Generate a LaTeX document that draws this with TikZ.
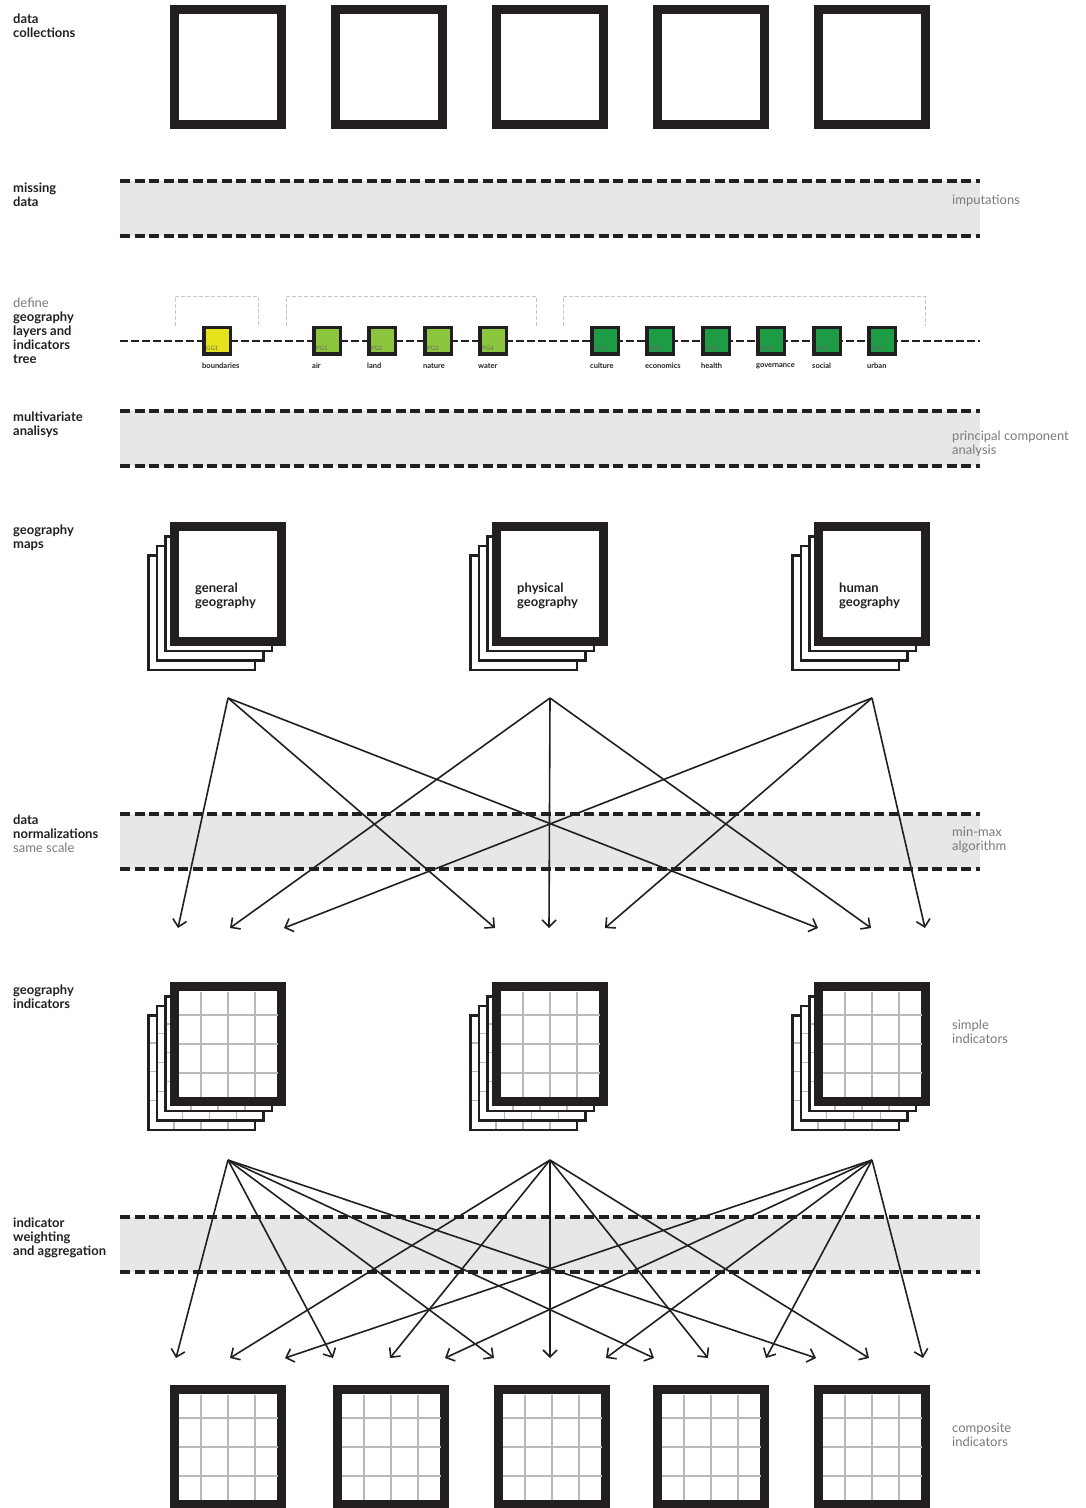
\documentclass[tikz,border=0pt]{standalone}
\usepackage{fontspec}
\setmainfont{Lato}
\usetikzlibrary{arrows.meta, positioning}

\definecolor{boxdark}{HTML}{231F20}
\definecolor{bandgray}{HTML}{E6E7E8}
\definecolor{labelgray}{HTML}{7A7A7A}
\definecolor{gridgray}{HTML}{B8B9BB}
\definecolor{ggyellow}{HTML}{E4E31B}
\definecolor{pggreen}{HTML}{8CC63F}
\definecolor{hggreen}{HTML}{1E9C45}

\begin{document}
\begin{tikzpicture}[x=1pt, y=-1pt,
    bigbox/.style={draw=boxdark, line width=9pt, fill=white, minimum width=107pt, minimum height=115pt, inner sep=0pt},
    sheet/.style={draw=boxdark, line width=2.5pt, fill=white},
    cell/.style={draw=gridgray, line width=1.2pt},
    bandline/.style={draw=boxdark, line width=4pt, dash pattern=on 10pt off 4.5pt},
    flow/.style={draw=boxdark, line width=1.6pt, -{Straight Barb[length=7pt, width=14pt, line width=1.6pt]}},
    leftlabel/.style={anchor=north west, align=left, inner sep=0pt, font=\fontsize{13}{14}\selectfont\bfseries, text=boxdark},
    rightlabel/.style={anchor=north west, align=left, inner sep=0pt, font=\fontsize{13}{14}\selectfont, text=labelgray},
    maplabel/.style={anchor=north west, align=left, inner sep=0pt, font=\fontsize{13}{14}\selectfont\bfseries, text=boxdark},
    treenode/.style={draw=boxdark, line width=3.5pt, minimum size=26.5pt, inner sep=0pt},
    treeline/.style={draw=boxdark, line width=2pt, dash pattern=on 8pt off 3pt},
    treetag/.style={anchor=north west, inner sep=0pt, font=\fontsize{7.5}{7.5}\selectfont\bfseries, text=boxdark},
    tinytag/.style={anchor=south west, inner sep=0pt, font=\fontsize{6}{6}\selectfont, text=black!60},
    bracket/.style={draw=gray!45, line width=0.9pt, dash pattern=on 4pt off 2pt}]

    \useasboundingbox (0,0) rectangle (1086,1508);

    % data collections
    \foreach \cx [count=\n] in {228,389,550,711,872}
        \node[bigbox] (coll\n) at (\cx,66.5) {};

    % grey bands
    \foreach \t in {181,411,814,1217} {
        \fill[bandgray] (120,\t) rectangle (980,\t+55);
        \draw[bandline] (120,\t) -- (980,\t);
        \draw[bandline] (120,\t+55) -- (980,\t+55);
    }

    % layers and indicators tree
    \draw[bracket] (175,326) -- (175,296) -- (258,296) -- (258,326);
    \draw[bracket] (286,326) -- (286,296) -- (536,296) -- (536,326);
    \draw[bracket] (563,326) -- (563,296) -- (925,296) -- (925,326);
    \draw[treeline] (120,341) -- (980,341);
    \foreach \x/\id/\nm/\col in {217/GG1/boundaries/ggyellow,
            327/PG1/air/pggreen, 382/PG2/land/pggreen, 438/PG3/nature/pggreen, 493/PG4/water/pggreen,
            605/HG1/culture/hggreen, 660/HG2/economics/hggreen, 716/HG3/health/hggreen,
            771/HG4/governance/hggreen, 827/HG5/social/hggreen, 882/HG6/urban/hggreen} {
        \node[treenode, fill=\col] (\id) at (\x,340.5) {};
        \node[tinytag] (\id-tag) at ([shift={(4pt,5pt)}]\id.south west) {\id};
        \node[treetag] (\id-name) at ([yshift=-7.5pt]\id.south west) {\nm};
    }

    % geography maps
    \foreach \cx/\nm/\txt in {228/gen/general, 550/phys/physical, 872/hum/human} {
        \foreach \k in {3,2,1}
            \draw[sheet] ({\cx-58+2.5-8.5*\k+1.25},{522+3.5+9.5*\k+1.25}) rectangle +(106.5,114.5);
        \node[bigbox] (map-\nm) at (\cx,584) {};
        \node[maplabel] (map-\nm-txt) at (\cx-33,582.5) {\txt\\geography};
    }

    % geography indicators
    \foreach \cx/\nm in {228/gen, 550/phys, 872/hum} {
        \foreach \k in {3,2,1} {
            \draw[sheet] ({\cx-58+2.5-8.5*\k+1.25},{982+3.5+9.5*\k+1.25}) rectangle +(106.5,114.5);
            \foreach \d in {27,54,81} {
                \draw[cell] ({\cx-58+2.5-8.5*\k+\d},{982+3.5+9.5*\k+2.5}) -- +(0,112);
                \draw[cell] ({\cx-58+2.5-8.5*\k+2.5},{982+3.5+9.5*\k+\d*1.07}) -- +(104,0);
            }
        }
        \node[bigbox] (ind-\nm) at (\cx,1044) {};
        \foreach \d in {-27,0,27}
            \draw[cell] (\cx+\d,991.5) -- (\cx+\d,1096.5);
        \foreach \d in {33,62,91}
            \draw[cell] (\cx-49.5,982+\d) -- (\cx+49.5,982+\d);
    }

    % composite indicators
    \foreach \cx [count=\n] in {228,391,552,711,872} {
        \node[bigbox] (comp\n) at (\cx,1447) {};
        \foreach \d in {-27,0,27}
            \draw[cell] (\cx+\d,1394.5) -- (\cx+\d,1499.5);
        \foreach \d in {33,62,91}
            \draw[cell] (\cx-49.5,1385+\d) -- (\cx+49.5,1385+\d);
    }

    % normalization arrows
    \coordinate (a1) at (228,698);
    \coordinate (a2) at (550,698);
    \coordinate (a3) at (872,698);
    \foreach \x [count=\n] in {178,230,284,495,549,605,818,871,925}
        \coordinate (na\n) at (\x,928);
    \foreach \s in {1,2,3}
        \foreach \g in {0,3,6} {
            \pgfmathtruncatemacro\t{\s+\g}
            \draw[flow] (a\s) -- (na\t);
        }

    % weighting arrows
    \coordinate (b1) at (228,1160);
    \coordinate (b2) at (550,1160);
    \coordinate (b3) at (872,1160);
    \foreach \x [count=\n] in {176,230,285,333,390,445,494,550,606,654,708,766,816,869,923}
        \coordinate (nb\n) at (\x,1358);
    \foreach \s in {1,2,3}
        \foreach \g in {0,3,6,9,12} {
            \pgfmathtruncatemacro\t{\s+\g}
            \draw[flow] (b\s) -- (nb\t);
        }

    % left labels
    \node[leftlabel] (l-coll) at (13,13.5) {data\\collections};
    \node[leftlabel] (l-miss) at (13,182.5) {missing\\data};
    \node[leftlabel] (l-tree) at (13,297.5) {{\mdseries\color{labelgray}define}\\geography\\layers and\\indicators\\tree};
    \node[leftlabel] (l-multi) at (13,411.5) {multivariate\\analisys};
    \node[leftlabel] (l-maps) at (13,524.5) {geography\\maps};
    \node[leftlabel] (l-norm) at (13,814.5) {data\\normalizations\\{\mdseries\color{labelgray}same scale}};
    \node[leftlabel] (l-ind) at (13,984.5) {geography\\indicators};
    \node[leftlabel] (l-weight) at (13,1217.5) {indicator\\weighting\\and aggregation};

    % right labels
    \node[rightlabel] (r-imp) at (952,194.5) {imputations};
    \node[rightlabel] (r-pca) at (952,430.5) {principal component\\analysis};
    \node[rightlabel] (r-minmax) at (952,826.5) {min-max\\algorithm};
    \node[rightlabel] (r-simple) at (952,1019.5) {simple\\indicators};
    \node[rightlabel] (r-comp) at (952,1422.5) {composite\\indicators};
\end{tikzpicture}
\end{document}
